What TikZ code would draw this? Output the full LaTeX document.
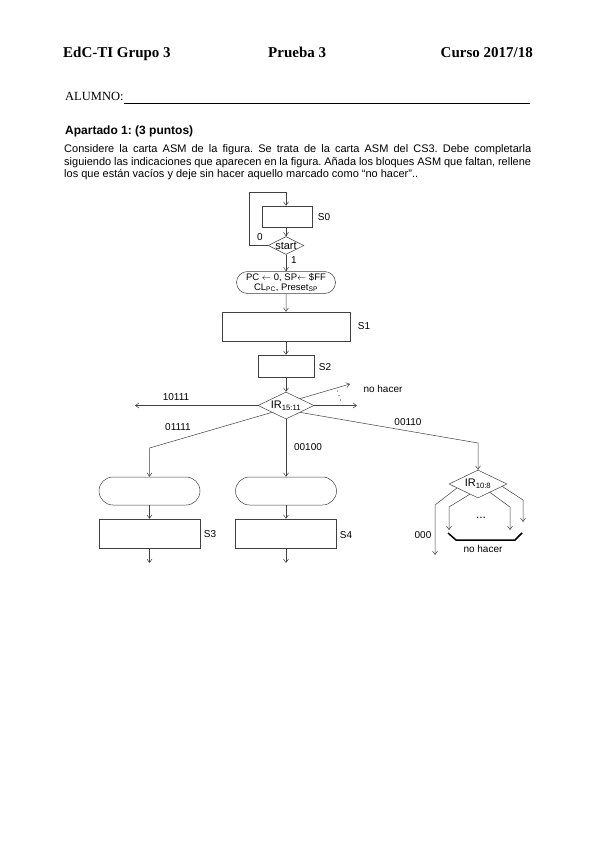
\documentclass[tikz,border=0pt]{standalone}
\usepackage{fontspec}
\setmainfont{Liberation Serif}
\newfontfamily\arialfont{Liberation Sans}
\newcommand\asmfont{\arialfont\fontsize{10}{11}\selectfont}
\frenchspacing
\usetikzlibrary{shapes.geometric,shapes.misc,arrows.meta,calc}

\begin{document}
\begin{tikzpicture}[x=1pt,y=-1pt,
  ln/.style={draw=black!75,line width=0.5pt},
  arr/.style={ln,-{Straight Barb[length=3.5pt,width=5pt]}},
  blk/.style 2 args={ln,rectangle,minimum width=#1,minimum height=#2,inner sep=0pt},
  cond/.style 2 args={ln,diamond,aspect=2,minimum width=#1,minimum height=#2,inner sep=0pt,font=\arialfont\fontsize{11}{12}\selectfont},
  oval/.style 2 args={ln,rounded rectangle,minimum width=#1,minimum height=#2,inner sep=0pt},
  lbl/.style={font=\asmfont,inner sep=0pt},
  hdr/.style={font=\fontsize{15}{18}\selectfont\bfseries,inner sep=0pt,anchor=base west}]
\fill[white] (0,0) rectangle (599,848);
\useasboundingbox (0,0) rectangle (599,848);

\node[hdr] (grupo) at (63,58) {EdC-TI Grupo 3};
\node[hdr] (prueba) at (268,58) {Prueba 3};
\node[hdr,anchor=base east] (curso) at (533,58) {Curso 2017/18};
\node[anchor=base west,inner sep=0pt,font=\fontsize{12.5}{14}\selectfont] (alumno) at (65,101) {ALUMNO:};
\draw[line width=0.6pt] (alumno.base east) ++(0,2) -- (530,103);
\node[anchor=base west,inner sep=0pt,font=\arialfont\bfseries\fontsize{12}{14}\selectfont] (apartado) at (65,135) {Apartado 1: (3 puntos)};
\node[anchor=north west,inner sep=0pt,text width=467pt,align=justify,font=\arialfont\fontsize{11}{12.4}\selectfont] (enunciado) at (64,144.5)
  {Considere la carta ASM de la figura. Se trata de la carta ASM del CS3. Debe completarla\linebreak
   siguiendo las indicaciones que aparecen en la figura. Añada los bloques ASM que faltan, rellene\linebreak
   los que están vacíos y deje sin hacer aquello marcado como “no hacer”..};

\node[blk={50pt}{21pt}] (s0) at (287.5,216.5) {};
\node[cond={35pt}{18pt}] (start) at (286,245.5) {start};
\node[oval={99pt}{22pt},align=center,font=\arialfont\fontsize{9.5}{9.8}\selectfont] (init) at (286,282.5)
  {PC $\leftarrow$ 0, SP$\leftarrow$ \$FF\\CL\textsubscript{PC}, Preset\textsubscript{SP}};
\node[blk={128pt}{29pt}] (s1) at (286,326.5) {};
\node[blk={56pt}{22pt}] (s2) at (286,366) {};
\node[cond={56pt}{27pt}] (ir) at (286,405.5) {IR\textsubscript{15:11}};
\node[oval={101pt}{28pt}] (ovl) at (149.5,491) {};
\node[oval={101pt}{28pt}] (ovm) at (286,491) {};
\node[blk={101pt}{29pt}] (s3) at (149.5,533.5) {};
\node[blk={101pt}{29pt}] (s4) at (286,533.5) {};
\node[cond={58pt}{28pt}] (irb) at (478,484) {IR\textsubscript{10:8}};

\node[lbl] (ls0) at (324,217) {S0};
\node[lbl] (ls1) at (364,326) {S1};
\node[lbl] (ls2) at (325,367) {S2};
\node[lbl] (ls3) at (210,534) {S3};
\node[lbl] (ls4) at (346,535) {S4};
\node[lbl] (l0) at (260,237) {0};
\node[lbl] (l1) at (294,260) {1};
\node[lbl] (l10111) at (176,397) {10111};
\node[lbl] (l01111) at (178,427) {01111};
\node[lbl] (l00100) at (308,447) {00100};
\node[lbl] (l00110) at (408,422) {00110};
\node[lbl] (nohacer) at (383,389) {no hacer};
\node[lbl] (l000) at (423,535) {000};
\node[lbl,font=\arialfont\fontsize{12}{12}\selectfont] (puntos) at (481,518) {...};
\node[lbl] (nohacerb) at (483,549) {no hacer};

\coordinate (lp) at (249,192);
\draw[arr] (start.west) -| (lp) -| (start.north |- s0.north);
\draw[arr] (start.north |- s0.south) -- (start.north);
\draw[arr] (start) -- (init);
\draw[arr] (init) -- (s1);
\draw[arr] (s1) -- (s2);
\draw[arr] (s2) -- (ir);

\coordinate (e10111) at (135,405.5);
\coordinate (enoh) at (350,384);
\coordinate (eright) at (357,405.5);
\coordinate (kl) at (149.5,448);
\coordinate (kr) at (478,443);
\draw[arr] (ir.west) -- (e10111);
\draw[arr] (ir.north east) -- (enoh);
\draw[arr] (ir.east) -- (eright);
\foreach \p in {(337.5,391),(339,395.5),(340.5,400)} \fill[black!75] \p circle (0.7pt);
\draw[arr] (ir.south west) -- (kl) -- (ovl.north);
\draw[arr] (ir) -- (ovm);
\draw[arr] (ir.south east) -- (kr) -- (irb.north);

\coordinate (o3) at (149.5,563);
\coordinate (o4) at (286,563);
\draw[arr] (ovl) -- (s3);
\draw[arr] (ovm) -- (s4);
\draw[arr] (s3) -- (o3);
\draw[arr] (s4) -- (o4);

\draw[arr] ($(irb.west)!0.28!(irb.south)$) -- (435,505) -- (435,555);
\draw[arr] ($(irb.west)!0.72!(irb.south)$) -- (449,507) -- (449,530);
\draw[arr] ($(irb.south)!0.41!(irb.east)$) -- (510,507) -- (510,530);
\draw[arr] ($(irb.south)!0.83!(irb.east)$) -- (523,500) -- (523,522);
\draw[line width=1.5pt] (448,533) -- (456,540) -- (515,540) -- (522,533);
\end{tikzpicture}
\end{document}
